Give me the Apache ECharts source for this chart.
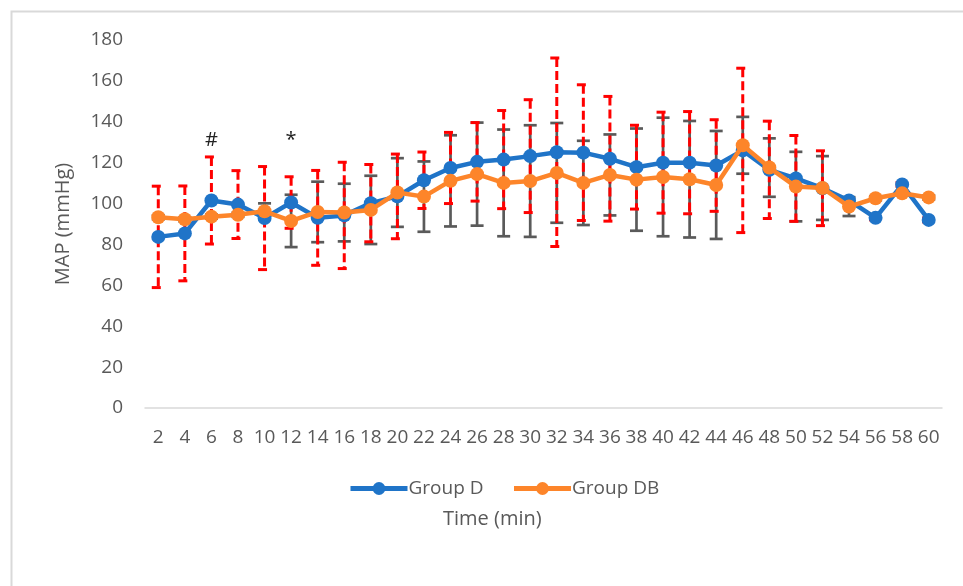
<!DOCTYPE html>
<html>
<head>
<meta charset="utf-8">
<script src="https://cdn.jsdelivr.net/npm/echarts@6/dist/echarts.min.js"></script>
<style>
html,body{margin:0;padding:0;background:#fff;}
#chart{width:963px;height:586px;}
</style>
</head>
<body>
<div id="chart"></div>
<script>
// Categories (Time, min)
const timeLabels = ['2','4','6','8','10','12','14','16','18','20','22','24','26','28','30','32','34','36','38','40','42','44','46','48','50','52','54','56','58','60'];

// Group D: mean MAP and SD (red dashed error bars)
const groupDMean = [83.7,85.4,101.5,99.5,92.9,100.5,93.0,94.2,100.2,103.5,111.4,117.4,120.4,121.5,123.2,125.1,124.9,121.9,117.8,120.0,120.0,118.6,126.0,116.5,112.3,107.5,101.5,93.0,109.3,92.0];
const groupDSD   = [24.8,23.2,21.3,16.6,25.2,12.6,23.2,26.0,18.9,20.7,13.8,17.4,19.2,24.0,27.6,46.1,33.2,30.5,20.5,24.7,25.0,22.4,40.2,23.8,21.0,18.3,1,1,1,1];

// Group DB: mean MAP and SD (grey solid error bars)
const groupDBMean = [93.3,92.3,93.6,94.5,96.2,91.5,95.9,95.6,96.9,105.4,103.4,111.1,114.4,110.1,111.0,115.0,110.1,114.0,111.7,113.0,111.9,109.1,128.5,117.6,108.3,107.6,98.5,102.6,105.0,103.0];
const groupDBSD   = [1,1,1,1,3.9,12.8,14.8,14.1,16.7,16.8,17.2,22.3,25.2,26.1,27.3,24.4,20.6,19.8,25.0,29.0,28.5,26.4,13.9,14.3,17.0,15.6,4.6,1,1,1];

// Significance annotations
const annotTime  = ['6','12'];
const annotValue = [131,131];
const annotText  = ['#','*'];

// Y axis ticks
const yMin = 0, yMax = 180, yStep = 20;

const FONT = 'Open Sans';
const TXT = '#595959';
const BLUE = '#1f74c8';
const ORANGE = '#fd852a';

function errRender(color, width, dash) {
  return function (params, api) {
    const i = api.value(0);
    const m = api.value(1), s = api.value(2);
    const top = api.coord([i, m + s]);
    const bot = api.coord([i, m - s]);
    const hw = 6.5;
    const style = {stroke: color, lineWidth: width, lineDash: dash, fill: null};
    return {
      type: 'group',
      children: [
        {type: 'line', shape: {x1: top[0], y1: top[1], x2: bot[0], y2: bot[1]}, style: style},
        {type: 'line', shape: {x1: top[0] - hw, y1: top[1], x2: top[0] + hw, y2: top[1]}, style: style},
        {type: 'line', shape: {x1: bot[0] - hw, y1: bot[1], x2: bot[0] + hw, y2: bot[1]}, style: style}
      ]
    };
  };
}

function annotRender(params, api) {
  const i = api.value(0);
  const pt = api.coord([i, api.value(1)]);
  return {
    type: 'text',
    style: {
      text: annotText[params.dataIndex],
      x: pt[0], y: pt[1],
      align: 'center', verticalAlign: 'middle',
      font: '20px "Open Sans"', fill: '#222222'
    }
  };
}

const errD = timeLabels.map((t, i) => [i, groupDMean[i], groupDSD[i]]);
const errDB = timeLabels.map((t, i) => [i, groupDBMean[i], groupDBSD[i]]);
const annotData = annotTime.map((t, i) => [timeLabels.indexOf(t), annotValue[i]]);

const chart = echarts.init(document.getElementById('chart'), null, {renderer: 'canvas'});
chart.setOption({
  animation: false,
  backgroundColor: '#ffffff',
  textStyle: {fontFamily: FONT},
  grid: {left: 145, right: 21, top: 40, bottom: 178, containLabel: false},
  graphic: [
    {type: 'rect', shape: {x: 11.5, y: 11.5, width: 1100, height: 1100}, style: {fill: null, stroke: '#d9d9d9', lineWidth: 2}, silent: true, z: 0},
    {type: 'text', left: 443, top: 509, style: {text: 'Time (min)', font: '20px "Open Sans"', fill: TXT}}
  ],
  legend: {
    data: ['Group D', 'Group DB'],
    left: 343, top: 474,
    itemWidth: 57, itemHeight: 16, itemGap: 28,
    lineStyle: {width: 5},
    textStyle: {fontSize: 19, color: TXT, fontFamily: FONT, padding: [0, 0, 0, -4]}
  },
  xAxis: {
    type: 'category',
    data: timeLabels,
    boundaryGap: true,
    axisLine: {show: true, lineStyle: {color: '#d9d9d9', width: 1.5}},
    axisTick: {show: false},
    axisLabel: {interval: 0, fontSize: 19, color: TXT, fontFamily: FONT, margin: 20},
    splitLine: {show: false}
  },
  yAxis: {
    type: 'value',
    min: yMin, max: yMax, interval: yStep,
    name: 'MAP (mmHg)',
    nameLocation: 'middle',
    nameGap: 72,
    nameTextStyle: {fontSize: 20, color: TXT, fontFamily: FONT},
    axisLine: {show: false},
    axisTick: {show: false},
    axisLabel: {fontSize: 19, color: TXT, fontFamily: FONT, margin: 22},
    splitLine: {show: false}
  },
  series: [
    {
      type: 'custom', name: 'errDB', renderItem: errRender('#5a5a5a', 2.7, null),
      data: errDB, encode: {x: 0, y: [1]}, z: 2, silent: true
    },
    {
      type: 'custom', name: 'errD', renderItem: errRender('#ff0000', 3, [9, 4]),
      data: errD, encode: {x: 0, y: [1]}, z: 3, silent: true
    },
    {
      type: 'line', name: 'Group D', data: groupDMean,
      symbol: 'circle', symbolSize: 14,
      lineStyle: {color: BLUE, width: 4.5},
      itemStyle: {color: BLUE},
      z: 4
    },
    {
      type: 'line', name: 'Group DB', data: groupDBMean,
      symbol: 'circle', symbolSize: 14,
      lineStyle: {color: ORANGE, width: 4.5},
      itemStyle: {color: ORANGE},
      z: 5
    },
    {
      type: 'custom', name: 'annot', renderItem: annotRender,
      data: annotData, encode: {x: 0, y: 1}, z: 6, silent: true
    }
  ]
});
</script>
</body>
</html>
